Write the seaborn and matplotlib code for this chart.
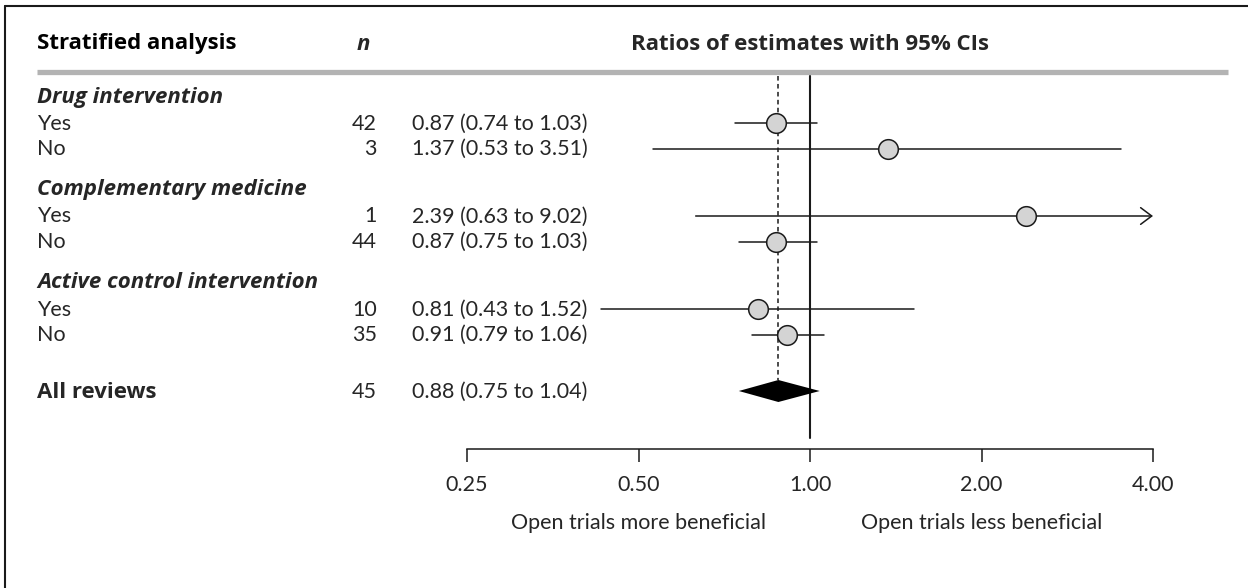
import numpy as np
import pandas as pd
import matplotlib
matplotlib.use("Agg")
import matplotlib.pyplot as plt
import matplotlib.transforms as mtransforms
from matplotlib.lines import Line2D
import seaborn as sns

# ---------------- data ----------------
groups = ["Drug intervention", "Complementary medicine", "Active control intervention"]
levels = ["Yes", "No"]
n_sub = [42, 3, 1, 44, 10, 35]
ratio = [0.87, 1.37, 2.39, 0.87, 0.81, 0.91]
ci_low = [0.74, 0.53, 0.63, 0.75, 0.43, 0.79]
ci_high = [1.03, 3.51, 9.02, 1.03, 1.52, 1.06]
overall_label = "All reviews"
overall_n = 45
overall_ratio = 0.88
overall_low = 0.75
overall_high = 1.04
tick_values = [0.25, 0.5, 1.0, 2.0, 4.0]
tick_labels = ["0.25", "0.50", "1.00", "2.00", "4.00"]
col_headers = ["Stratified analysis", "n", "Ratios of estimates with 95% CIs"]
side_labels = ["Open trials more beneficial", "Open trials less beneficial"]

# ---------------- style ----------------
sns.set_theme(style="white")
plt.rcParams["font.family"] = ["Lato", "DejaVu Sans"]
FS = 15.5
BFS = 16
BOLD_FAM = ["Open Sans", "DejaVu Sans"]
DARK = "#1a1a1a"

W, H = 1248, 588
fig = plt.figure(figsize=(W / 100, H / 100), dpi=100)
fig.patch.set_facecolor("white")

axis_y = 449
ax = fig.add_axes([0, 1 - axis_y / H, 1, axis_y / H])
ax.set_facecolor("none")
ax.set_xscale("log", base=2)
px_per_unit = 171.5
x_ref = 810
ax.set_xlim(2 ** (-x_ref / px_per_unit), 2 ** ((W - x_ref) / px_per_unit))
ax.set_ylim(axis_y, 0)

blend = mtransforms.blended_transform_factory(ax.transAxes, ax.transData)
def px(x):
    return x / W

# ---------------- layout (rows) ----------------
first_yes, stride, step, head_off = 123, 93, 25.5, 27
row_y, head_y = [], []
for gi in range(len(groups)):
    head_y.append(first_yes + gi * stride - head_off)
    for li in range(len(levels)):
        row_y.append(first_yes + gi * stride + li * step)
overall_y = row_y[-1] + 56.5
header_y = 43
base_off = 6.5  # baseline offset

# ---------------- frame & header rule ----------------
fig.add_artist(Line2D([5 / W, 5 / W], [0, 1 - 6 / H], color=DARK, lw=1.5,
                      transform=fig.transFigure))
fig.add_artist(Line2D([5 / W, 1], [1 - 6 / H, 1 - 6 / H], color=DARK, lw=1.5,
                      transform=fig.transFigure))
ax.plot([px(37), px(1228)], [71.5, 71.5], transform=blend, color="#b3b3b3",
        lw=3.8, solid_capstyle="butt", clip_on=False)

# header texts
ax.text(px(37), header_y + base_off, col_headers[0], transform=blend, fontsize=BFS,
        family=BOLD_FAM, fontweight="bold", ha="left", va="baseline", color="black")
ax.text(px(363), header_y + base_off, col_headers[1], transform=blend, fontsize=BFS,
        family=BOLD_FAM, fontweight="bold", fontstyle="italic", ha="center", va="baseline")
ax.text(1.0, header_y + base_off, col_headers[2], fontsize=BFS, family=BOLD_FAM,
        fontweight="bold", ha="center", va="baseline")

# ---------------- reference lines ----------------
ax.plot([1.0, 1.0], [76, 438], color=DARK, lw=1.5, zorder=2)
ax.plot([overall_ratio, overall_ratio], [76, overall_y - 11], color=DARK, lw=1.1,
        linestyle=(0, (3, 2.2)), zorder=2)

# ---------------- rows ----------------
xmax_axis = tick_values[-1]
k = 0
for gi, g in enumerate(groups):
    ax.text(px(37), head_y[gi] + base_off, g, transform=blend, fontsize=BFS,
            family=BOLD_FAM, fontweight="bold", fontstyle="italic", ha="left", va="baseline")
    for li, lv in enumerate(levels):
        y = row_y[k]
        ax.text(px(37), y + base_off, lv, transform=blend, fontsize=FS,
                ha="left", va="baseline")
        ax.text(px(377), y + base_off, str(n_sub[k]), transform=blend, fontsize=FS,
                ha="right", va="baseline")
        ax.text(px(412), y + base_off,
                f"{ratio[k]:.2f} ({ci_low[k]:.2f} to {ci_high[k]:.2f})",
                transform=blend, fontsize=FS, ha="left", va="baseline")
        if ci_high[k] > xmax_axis:
            ax.annotate("", xy=(xmax_axis, y), xytext=(ci_low[k], y),
                        arrowprops=dict(arrowstyle="->,head_length=0.8,head_width=0.6",
                                        color=DARK, lw=1.1, shrinkA=0, shrinkB=0,
                                        mutation_scale=10),
                        zorder=3)
        else:
            ax.plot([ci_low[k], ci_high[k]], [y, y], color=DARK, lw=1.1, zorder=3)
        k += 1

df = pd.DataFrame({"ratio": ratio, "y": row_y})
sns.scatterplot(data=df, x="ratio", y="y", s=200, color="#d4d4d4",
                edgecolor=DARK, linewidth=1.1, ax=ax, zorder=5, legend=False)

# overall
ax.text(px(37), overall_y + base_off, overall_label, transform=blend, fontsize=BFS,
        family=BOLD_FAM, fontweight="bold", ha="left", va="baseline")
ax.text(px(377), overall_y + base_off, str(overall_n), transform=blend, fontsize=FS,
        ha="right", va="baseline")
ax.text(px(412), overall_y + base_off,
        f"{overall_ratio:.2f} ({overall_low:.2f} to {overall_high:.2f})",
        transform=blend, fontsize=FS, ha="left", va="baseline")
ax.fill([overall_low, overall_ratio, overall_high, overall_ratio],
        [overall_y, overall_y - 11, overall_y, overall_y + 11],
        color="black", zorder=4, lw=0)

# ---------------- axis ----------------
for s in ["top", "left", "right"]:
    ax.spines[s].set_visible(False)
ax.spines["bottom"].set_bounds(tick_values[0], tick_values[-1])
ax.spines["bottom"].set_color(DARK)
ax.spines["bottom"].set_linewidth(1.1)
ax.set_xticks(tick_values)
ax.set_xticklabels(tick_labels)
ax.xaxis.set_minor_locator(matplotlib.ticker.NullLocator())
ax.tick_params(axis="x", direction="out", length=9.5, width=1.1, color=DARK,
               labelsize=FS, pad=9, bottom=True)
ax.set_yticks([])
ax.set_xlabel("")
ax.set_ylabel("")

ax.text(tick_values[1], 529, side_labels[0], fontsize=FS, ha="center", va="baseline")
ax.text(tick_values[3], 529, side_labels[1], fontsize=FS, ha="center", va="baseline")

fig.savefig("out.png", dpi=100, facecolor="white")
